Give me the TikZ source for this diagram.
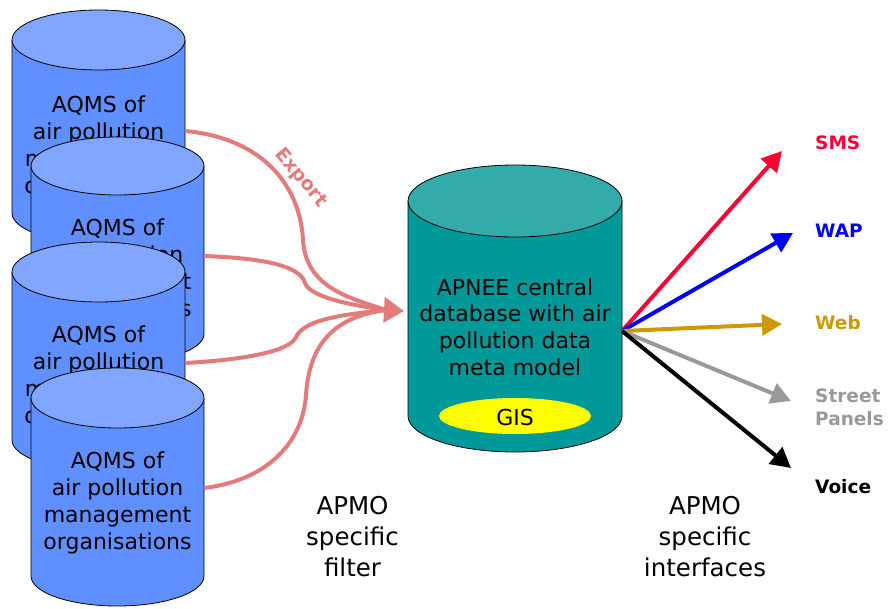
\documentclass[tikz,border=0pt]{standalone}
\usepackage{fontspec}
\setmainfont{DejaVu Sans}
\usetikzlibrary{arrows.meta}
\definecolor{bluebody}{HTML}{6090FF}
\definecolor{bluetop}{HTML}{80A6FF}
\definecolor{tealbody}{HTML}{009999}
\definecolor{tealtop}{HTML}{33ABAB}
\definecolor{pinkline}{HTML}{E37B7B}
\definecolor{smsred}{HTML}{FF0033}
\definecolor{wapblue}{HTML}{0000FF}
\definecolor{webgold}{HTML}{CC9900}
\definecolor{streetgray}{HTML}{999999}
\definecolor{gisyellow}{HTML}{FFFF00}
\newcommand\drawcyl[7]{%
  \fill[#6] (#1-#2,#3) -- (#1-#2,#4) arc[start angle=180,end angle=0,x radius=#2,y radius=#5] -- (#1+#2,#3) -- cycle;
  \draw[cylline] (#1-#2,#3) -- (#1-#2,#4) arc[start angle=180,end angle=0,x radius=#2,y radius=#5] -- (#1+#2,#3);
  \filldraw[fill=#7, cylline] (#1,#3) ellipse[x radius=#2,y radius=#5];
}
\tikzset{
  cylline/.style={draw=black, line width=0.8pt},
  cyltext/.style={align=center, font=\fontsize{22}{27}\selectfont, inner sep=0pt},
  lbl/.style={anchor=west, align=left, font=\bfseries\fontsize{18.5}{23}\selectfont, inner sep=0pt},
  bottomtext/.style={align=center, font=\fontsize{24.5}{31}\selectfont, inner sep=0pt},
  pinkcurve/.style={draw=pinkline, line width=4pt},
  outarrow/.style={line width=4pt, -{Triangle[length=20pt,width=21pt]}},
}
\begin{document}
\begin{tikzpicture}[x=1pt,y=-1pt]
\useasboundingbox (0,0) rectangle (888,608);
% left cylinders
\drawcyl{98.5}{86.5}{40}{213}{30}{bluebody}{bluetop}
\node[cyltext] (aqms1) at (98.5,147) {AQMS of\\air pollution\\management\\organisations};
\drawcyl{117.5}{86.5}{166}{334}{29}{bluebody}{bluetop}
\node[cyltext] (aqms2) at (117.5,270) {AQMS of\\air pollution\\management\\organisations};
\drawcyl{98.5}{86.5}{272}{440}{30}{bluebody}{bluetop}
\node[cyltext] (aqms3) at (98.5,377) {AQMS of\\air pollution\\management\\organisations};
\drawcyl{117.5}{86.5}{398}{576}{30}{bluebody}{bluetop}
\node[cyltext] (aqms4) at (117.5,503) {AQMS of\\air pollution\\management\\organisations};
% central cylinder
\drawcyl{515}{107}{201}{416}{36}{tealbody}{tealtop}
\node[cyltext, font=\fontsize{22}{26.7}\selectfont] (apnee) at (515,327) {APNEE central\\database with air\\pollution data\\meta model};
\fill[gisyellow] (515,416) ellipse[x radius=76,y radius=18];
\node[cyltext] (gis) at (515,417) {GIS};
% connection points
\coordinate (e1) at (185,131);
\coordinate (e2) at (204,256);
\coordinate (e3) at (185,363);
\coordinate (e4) at (204,488);
\coordinate (merge) at (386,310);
\coordinate (apneein) at (404,311);
\coordinate (hub) at (622,331);
% pink curves
\draw[pinkcurve] (e1) .. controls (262,138) and (300,185) .. (303,240) .. controls (306,288) and (350,298) .. (merge);
\draw[pinkcurve] (e3) .. controls (240,360) and (290,352) .. (296,337) .. controls (305,318) and (350,314) .. (merge);
\draw[pinkcurve] (e4) .. controls (270,480) and (303,440) .. (306,395) .. controls (310,330) and (350,315) .. (merge);
\draw[pinkcurve, -{Triangle[length=20pt,width=25pt]}] (e2) .. controls (260,258) and (300,265) .. (305,283) .. controls (310,297) and (350,305) .. (merge) -- (apneein);
\node[font=\bfseries\fontsize{19}{23}\selectfont, text=pinkline, rotate=-50, inner sep=0pt] (export) at (301,178) {Export};
% output arrows
\coordinate (smsT) at (782,151);
\coordinate (wapT) at (793,233);
\coordinate (webT) at (782,324);
\coordinate (streetT) at (791,401);
\coordinate (voiceT) at (791,468);
\draw[outarrow, draw=smsred, fill=smsred] (hub) -- (smsT);
\draw[outarrow, draw=wapblue, fill=wapblue] (hub) -- (wapT);
\draw[outarrow, draw=webgold, fill=webgold] (hub) -- (webT);
\draw[outarrow, draw=streetgray, fill=streetgray] (hub) -- (streetT);
\draw[outarrow, draw=black, fill=black] (hub) -- (voiceT);
% labels
\node[lbl, text=smsred] (sms) at (815,143) {SMS};
\node[lbl, text=wapblue] (wap) at (815,231) {WAP};
\node[lbl, text=webgold] (web) at (815,323) {Web};
\node[lbl, text=streetgray] (street) at (815,407) {Street\\Panels};
\node[lbl, text=black] (voice) at (815,487) {Voice};
% bottom texts
\node[bottomtext] (filter) at (352.5,537) {APMO\\specific\\filter};
\node[bottomtext] (interfaces) at (705,537) {APMO\\specific\\interfaces};
\end{tikzpicture}
\end{document}
